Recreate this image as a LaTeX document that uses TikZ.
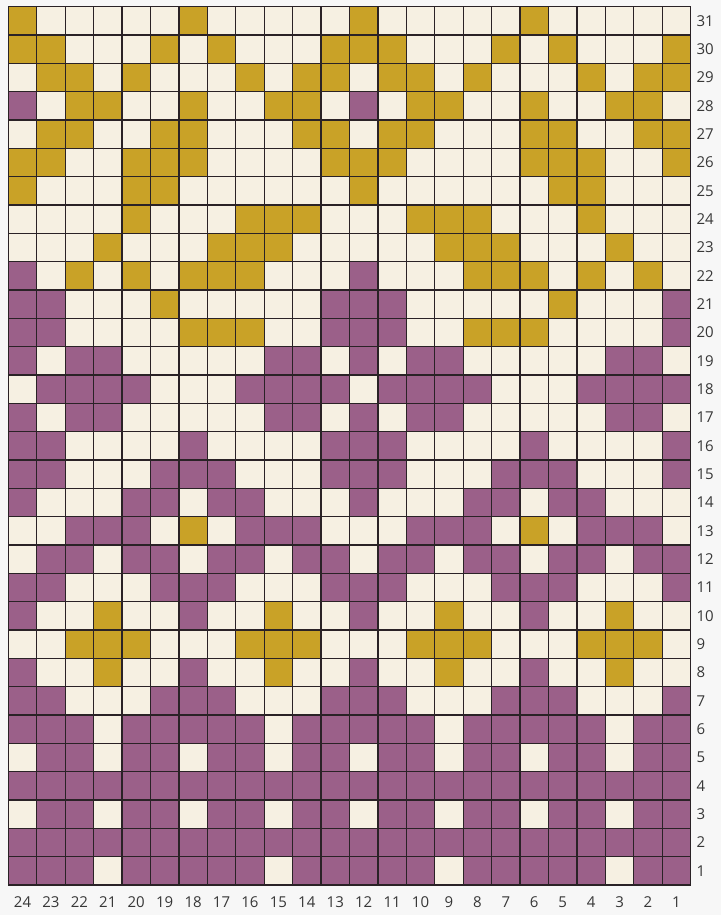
\documentclass[tikz,border=0pt]{standalone}
\usepackage{xcolor}
\usepackage{tikz}
\usepackage{fontspec}
\setmainfont{Open Sans}
\usetikzlibrary{positioning, calc}
\definecolor{cellY}{RGB}{201, 162, 39}
\definecolor{cellP}{RGB}{155, 96, 137}
\definecolor{cellC}{RGB}{246, 240, 226}
\definecolor{chartline}{RGB}{42, 34, 38}
\definecolor{labeltext}{RGB}{55, 55, 55}
\definecolor{pagebg}{RGB}{247, 247, 247}

\tikzset{
    gridline/.style={draw=chartline, line width=1.3pt, line cap=rect},
    rowlabel/.style={anchor=west, inner sep=0pt, text=labeltext, font=\fontsize{15}{17}\selectfont},
    collabel/.style={anchor=center, inner sep=0pt, text=labeltext, font=\fontsize{15}{17}\selectfont}
}

\begin{document}
\begin{tikzpicture}[x=28.43pt, y=28.33pt]
    \fill[pagebg] (-0.292,-1.059) rectangle (25.068,31.239);
    \useasboundingbox (-0.292,-1.059) rectangle (25.068,31.239);

    \foreach \r/\cells in {
        31/{Y,C,C,C,C,C,Y,C,C,C,C,C,Y,C,C,C,C,C,Y,C,C,C,C,C},
        30/{Y,Y,C,C,C,Y,C,Y,C,C,C,Y,Y,Y,C,C,C,Y,C,Y,C,C,C,Y},
        29/{C,Y,Y,C,Y,C,C,C,Y,C,Y,Y,C,Y,Y,C,Y,C,C,C,Y,C,Y,Y},
        28/{P,C,Y,Y,C,C,Y,C,C,Y,Y,C,P,C,Y,Y,C,C,Y,C,C,Y,Y,C},
        27/{C,Y,Y,C,C,Y,Y,C,C,C,Y,Y,C,Y,Y,C,C,C,Y,Y,C,C,Y,Y},
        26/{Y,Y,C,C,Y,Y,Y,C,C,C,C,Y,Y,Y,C,C,C,C,Y,Y,Y,C,C,Y},
        25/{Y,C,C,C,Y,Y,C,C,C,C,C,C,Y,C,C,C,C,C,C,Y,Y,C,C,C},
        24/{C,C,C,C,Y,C,C,C,Y,Y,Y,C,C,C,Y,Y,Y,C,C,C,Y,C,C,C},
        23/{C,C,C,Y,C,C,C,Y,Y,Y,C,C,C,C,C,Y,Y,Y,C,C,C,Y,C,C},
        22/{P,C,Y,C,Y,C,Y,Y,Y,C,C,C,P,C,C,C,Y,Y,Y,C,Y,C,Y,C},
        21/{P,P,C,C,C,Y,C,C,C,C,C,P,P,P,C,C,C,C,C,Y,C,C,C,P},
        20/{P,P,C,C,C,C,Y,Y,Y,C,C,P,P,P,C,C,Y,Y,Y,C,C,C,C,P},
        19/{P,C,P,P,C,C,C,C,C,P,P,C,P,C,P,P,C,C,C,C,C,P,P,C},
        18/{C,P,P,P,P,C,C,C,P,P,P,P,C,P,P,P,P,C,C,C,P,P,P,P},
        17/{P,C,P,P,C,C,C,C,C,P,P,C,P,C,P,P,C,C,C,C,C,P,P,C},
        16/{P,P,C,C,C,C,P,C,C,C,C,P,P,P,C,C,C,C,P,C,C,C,C,P},
        15/{P,P,C,C,C,P,P,P,C,C,C,P,P,P,C,C,C,P,P,P,C,C,C,P},
        14/{P,C,C,C,P,P,C,P,P,C,C,C,P,C,C,C,P,P,C,P,P,C,C,C},
        13/{C,C,P,P,P,C,Y,C,P,P,P,C,C,C,P,P,P,C,Y,C,P,P,P,C},
        12/{C,P,P,C,P,P,C,P,P,C,P,P,C,P,P,C,P,P,C,P,P,C,P,P},
        11/{P,P,C,C,C,P,P,P,C,C,C,P,P,P,C,C,C,P,P,P,C,C,C,P},
        10/{P,C,C,Y,C,C,P,C,C,Y,C,C,P,C,C,Y,C,C,P,C,C,Y,C,C},
        9/{C,C,Y,Y,Y,C,C,C,Y,Y,Y,C,C,C,Y,Y,Y,C,C,C,Y,Y,Y,C},
        8/{P,C,C,Y,C,C,P,C,C,Y,C,C,P,C,C,Y,C,C,P,C,C,Y,C,C},
        7/{P,P,C,C,C,P,P,P,C,C,C,P,P,P,C,C,C,P,P,P,C,C,C,P},
        6/{P,P,P,C,P,P,P,P,P,C,P,P,P,P,P,C,P,P,P,P,P,C,P,P},
        5/{C,P,P,C,P,P,C,P,P,C,P,P,C,P,P,C,P,P,C,P,P,C,P,P},
        4/{P,P,P,P,P,P,P,P,P,P,P,P,P,P,P,P,P,P,P,P,P,P,P,P},
        3/{C,P,P,C,P,P,C,P,P,C,P,P,C,P,P,C,P,P,C,P,P,C,P,P},
        2/{P,P,P,P,P,P,P,P,P,P,P,P,P,P,P,P,P,P,P,P,P,P,P,P},
        1/{P,P,P,C,P,P,P,P,P,C,P,P,P,P,P,C,P,P,P,P,P,C,P,P}}{
        \foreach \c [count=\i] in \cells
            \fill[fill=cell\c] (\i-1,\r-1) rectangle (\i,\r);
    }

    \foreach \i in {0,...,24}
        \draw[gridline] (\i,0) -- (\i,31);
    \foreach \r in {0,...,31}
        \draw[gridline] (0,\r) -- (24,\r);

    \foreach \r in {1,...,31}
        \node[rowlabel] (row\r) at (24.2,\r-0.5) {\r};
    \foreach \c in {1,...,24}
        \node[collabel] (col\c) at (24.5-\c,-0.6) {\c};
\end{tikzpicture}
\end{document}
